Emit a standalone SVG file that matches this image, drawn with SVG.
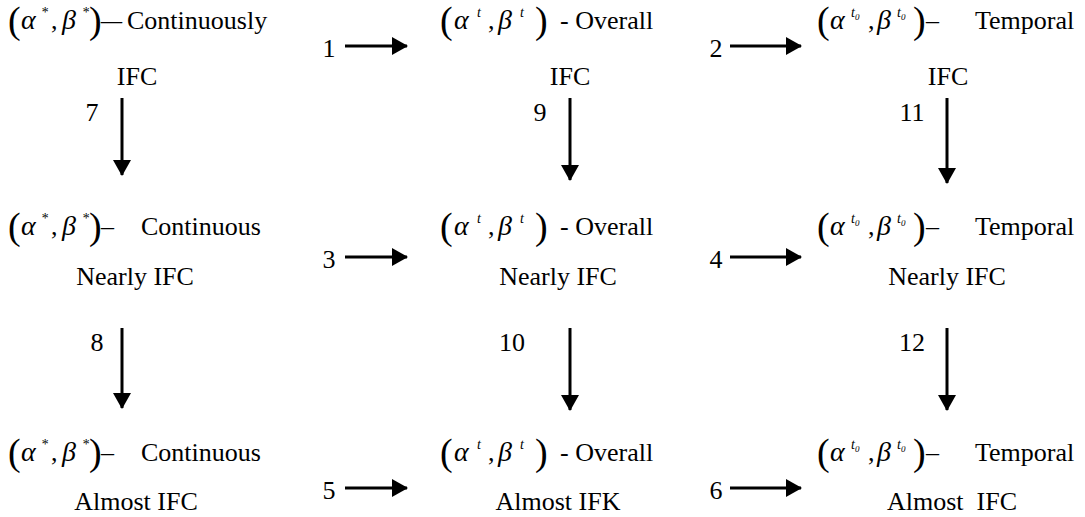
<svg xmlns="http://www.w3.org/2000/svg" width="1085" height="517" viewBox="0 0 1085 517">
<style>
text{font-family:"Liberation Serif","Times New Roman",serif;font-size:26px;fill:#000;white-space:pre}
.p{font-size:38px}
.g{font-style:italic;font-size:28px}
.s{font-size:14px;font-style:italic}
.z{font-size:9px}
.c{text-anchor:middle}
.n{text-anchor:middle}
.ln{stroke:#000;stroke-width:3;fill:none}
</style>
<defs>
<marker id="ah" markerUnits="userSpaceOnUse" markerWidth="16" markerHeight="18" refX="15" refY="9" orient="auto">
<path d="M0,0 L16,9 L0,18 Z" fill="#000"/>
</marker>
</defs>
<rect width="1085" height="517" fill="#fff"/>

<g id="n-cont-ifc">
<text y="33" class="p" x="8">(</text>
<text y="29" class="g" x="21">α</text>
<text y="17" class="s" x="41">*</text>
<text y="29" x="51">,</text>
<text y="29" class="g" x="62">β</text>
<text y="17" class="s" x="82">*</text>
<text y="33" class="p" x="89">)</text>
<text y="29" x="101" textLength="21" lengthAdjust="spacingAndGlyphs">–</text>
<text y="29" x="127">Continuously</text>
<text y="85" class="c" x="137">IFC</text>
</g>

<g id="n-overall-ifc">
<text y="33" class="p" x="440">(</text>
<text y="29" class="g" x="454">α</text>
<text y="17" class="s" x="477">t</text>
<text y="29" x="488">,</text>
<text y="29" class="g" x="498">β</text>
<text y="17" class="s" x="520">t</text>
<text y="33" class="p" x="535">)</text>
<text y="29" x="560">- Overall</text>
<text y="85" class="c" x="570">IFC</text>
</g>

<g id="n-temporal-ifc">
<text y="33" class="p" x="817">(</text>
<text y="29" class="g" x="830">α</text>
<text y="17" class="s" x="851">t<tspan class="z" dy="3">0</tspan></text>
<text y="29" x="868">,</text>
<text y="29" class="g" x="877">β</text>
<text y="17" class="s" x="897">t<tspan class="z" dy="3">0</tspan></text>
<text y="33" class="p" x="913">)</text>
<text y="29" x="926">–</text>
<text y="29" x="975">Temporal</text>
<text y="85" class="c" x="948">IFC</text>
</g>

<g id="n-cont-nearly">
<text y="239" class="p" x="8">(</text>
<text y="235" class="g" x="21">α</text>
<text y="223" class="s" x="41">*</text>
<text y="235" x="51">,</text>
<text y="235" class="g" x="62">β</text>
<text y="223" class="s" x="82">*</text>
<text y="239" class="p" x="89">)</text>
<text y="235" x="101">–</text>
<text y="235" x="141">Continuous</text>
<text y="285" class="c" x="135">Nearly IFC</text>
</g>

<g id="n-overall-nearly">
<text y="239" class="p" x="440">(</text>
<text y="235" class="g" x="454">α</text>
<text y="223" class="s" x="477">t</text>
<text y="235" x="488">,</text>
<text y="235" class="g" x="498">β</text>
<text y="223" class="s" x="520">t</text>
<text y="239" class="p" x="535">)</text>
<text y="235" x="560">- Overall</text>
<text y="285" class="c" x="558">Nearly IFC</text>
</g>

<g id="n-temporal-nearly">
<text y="239" class="p" x="817">(</text>
<text y="235" class="g" x="830">α</text>
<text y="223" class="s" x="851">t<tspan class="z" dy="3">0</tspan></text>
<text y="235" x="868">,</text>
<text y="235" class="g" x="877">β</text>
<text y="223" class="s" x="897">t<tspan class="z" dy="3">0</tspan></text>
<text y="239" class="p" x="913">)</text>
<text y="235" x="926">–</text>
<text y="235" x="975">Temporal</text>
<text y="285" class="c" x="947">Nearly IFC</text>
</g>

<g id="n-cont-almost">
<text y="465" class="p" x="8">(</text>
<text y="461" class="g" x="21">α</text>
<text y="449" class="s" x="41">*</text>
<text y="461" x="51">,</text>
<text y="461" class="g" x="62">β</text>
<text y="449" class="s" x="82">*</text>
<text y="465" class="p" x="89">)</text>
<text y="461" x="101">–</text>
<text y="461" x="141">Continuous</text>
<text y="510" class="c" x="136">Almost IFC</text>
</g>

<g id="n-overall-almost">
<text y="465" class="p" x="440">(</text>
<text y="461" class="g" x="454">α</text>
<text y="449" class="s" x="477">t</text>
<text y="461" x="488">,</text>
<text y="461" class="g" x="498">β</text>
<text y="449" class="s" x="520">t</text>
<text y="465" class="p" x="535">)</text>
<text y="461" x="560">- Overall</text>
<text y="510" class="c" x="558">Almost IFK</text>
</g>

<g id="n-temporal-almost">
<text y="465" class="p" x="817">(</text>
<text y="461" class="g" x="830">α</text>
<text y="449" class="s" x="851">t<tspan class="z" dy="3">0</tspan></text>
<text y="461" x="868">,</text>
<text y="461" class="g" x="877">β</text>
<text y="449" class="s" x="897">t<tspan class="z" dy="3">0</tspan></text>
<text y="465" class="p" x="913">)</text>
<text y="461" x="926">–</text>
<text y="461" x="975">Temporal</text>
<text y="510" class="c" x="952">Almost  IFC</text>
</g>

<g id="connectors">
<line class="ln" x1="345" y1="46" x2="407" y2="46" marker-end="url(#ah)"/>
<text class="n" x="329" y="57">1</text>
<line class="ln" x1="730" y1="46" x2="801" y2="46" marker-end="url(#ah)"/>
<text class="n" x="716" y="57">2</text>
<line class="ln" x1="345" y1="257" x2="407" y2="257" marker-end="url(#ah)"/>
<text class="n" x="329" y="268">3</text>
<line class="ln" x1="730" y1="257" x2="801" y2="257" marker-end="url(#ah)"/>
<text class="n" x="716" y="268">4</text>
<line class="ln" x1="345" y1="488" x2="407" y2="488" marker-end="url(#ah)"/>
<text class="n" x="329" y="499">5</text>
<line class="ln" x1="730" y1="488" x2="801" y2="488" marker-end="url(#ah)"/>
<text class="n" x="716" y="499">6</text>

<line class="ln" x1="122" y1="98" x2="122" y2="175" marker-end="url(#ah)"/>
<text class="n" x="92" y="121">7</text>
<line class="ln" x1="570" y1="98" x2="570" y2="180" marker-end="url(#ah)"/>
<text class="n" x="540" y="121">9</text>
<line class="ln" x1="947" y1="98" x2="947" y2="183" marker-end="url(#ah)"/>
<text class="n" x="912" y="121">11</text>
<line class="ln" x1="122" y1="328" x2="122" y2="408" marker-end="url(#ah)"/>
<text class="n" x="97" y="351">8</text>
<line class="ln" x1="570" y1="328" x2="570" y2="410" marker-end="url(#ah)"/>
<text class="n" x="512" y="351">10</text>
<line class="ln" x1="947" y1="328" x2="947" y2="410" marker-end="url(#ah)"/>
<text class="n" x="912" y="351">12</text>
</g>
</svg>
